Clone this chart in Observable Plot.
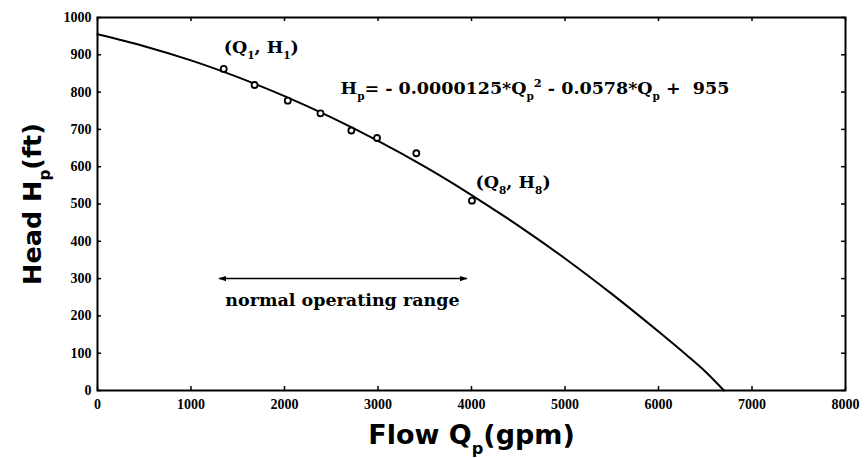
<!DOCTYPE html>
<html><head><meta charset="utf-8">
<script src="https://cdn.jsdelivr.net/npm/d3@7"></script>
<script src="https://cdn.jsdelivr.net/npm/@observablehq/plot@0.6"></script>
<style>body{margin:0;background:#fff}</style>
</head><body><div id="chart"></div>
<script>
// measured pump test points (Q in gpm, H in ft)
const pointQ = [1350, 1680, 2035, 2385, 2715, 2990, 3410, 4005];
const pointH = [862, 819, 777, 743, 697, 677, 636, 509];
// fitted pump curve
const curveQ = [0, 500, 1000, 1500, 2000, 2500, 3000, 3500, 4000, 4500, 5000, 5500, 6000, 6300, 6500, 6700];
const curveH = [955, 923, 885, 840, 789, 732, 669, 600, 524, 442, 354, 259, 158, 95, 51, 0];
const xTicks = [0, 1000, 2000, 3000, 4000, 5000, 6000, 7000, 8000];
const yTicks = [0, 100, 200, 300, 400, 500, 600, 700, 800, 900, 1000];
// normal operating range arrow
const rangeQ = [1300, 3950];
const rangeH = 300;
// annotations
const startNotes = [
  {q: 1350, h: 920, label: "(Q_{1}, H_{1})"},
  {q: 2600, h: 810, label: "H_{p}= - 0.0000125*Q_{p}^{2} - 0.0578*Q_{p} +  955"},
  {q: 4043, h: 558, label: "(Q_{8}, H_{8})"}
];
const middleNotes = [
  {q: 2620, h: 241, label: "normal operating range"}
];

const points = pointQ.map((q, i) => ({q, h: pointH[i]}));
const curve = curveQ.map((q, i) => ({q, h: curveH[i]}));
const serif = "DejaVu Serif";

const chart = Plot.plot({
  width: 865,
  height: 458,
  marginLeft: 97,
  marginRight: 20,
  marginTop: 17,
  marginBottom: 68,
  style: {fontFamily: "Liberation Serif", fontSize: "14px", fontWeight: "bold", background: "#fff", color: "#000"},
  x: {domain: [0, 8000], ticks: xTicks, tickFormat: d => String(d), tickSize: 0, tickPadding: 9, label: null},
  y: {domain: [0, 1000], ticks: yTicks, tickFormat: d => String(d), tickSize: 0, tickPadding: 6, label: null},
  marks: [
    Plot.tickX(xTicks, {x: d => d, insetTop: 369, strokeWidth: 1.5}),
    Plot.tickX(xTicks, {x: d => d, insetBottom: 369, strokeWidth: 1.5}),
    Plot.tickY(yTicks, {y: d => d, insetRight: 744, strokeWidth: 1.5}),
    Plot.tickY(yTicks, {y: d => d, insetLeft: 744, strokeWidth: 1.5}),
    Plot.frame({strokeWidth: 2}),
    Plot.line(curve, {x: "q", y: "h", curve: "catmull-rom", strokeWidth: 2}),
    Plot.dot(points, {x: "q", y: "h", r: 3, fill: "white", stroke: "black", strokeWidth: 1.8}),
    Plot.link([{q1: rangeQ[0], q2: rangeQ[1], h: rangeH}], {x1: "q1", x2: "q2", y1: "h", y2: "h", strokeWidth: 1.5}),
    Plot.text(startNotes, {x: "q", y: "h", text: "label", textAnchor: "start", fontFamily: serif, fontWeight: "bold", fontSize: 17.5}),
    Plot.text(middleNotes, {x: "q", y: "h", text: "label", textAnchor: "middle", fontFamily: serif, fontWeight: "bold", fontSize: 17.5}),
    Plot.text(["Flow Q_{p}(gpm)"], {frameAnchor: "bottom", dy: 45, textAnchor: "middle", lineAnchor: "middle", fontFamily: "DejaVu Sans", fontWeight: "bold", fontSize: 27}),
    Plot.text(["Head H_{p}(ft)"], {frameAnchor: "left", dx: -65, rotate: -90, textAnchor: "middle", lineAnchor: "middle", fontFamily: "DejaVu Sans", fontWeight: "bold", fontSize: 25.5})
  ]
});
document.getElementById("chart").appendChild(chart);

const NS = "http://www.w3.org/2000/svg";
// filled arrowheads on both ends of the range line
const defs = document.createElementNS(NS, "defs");
const marker = document.createElementNS(NS, "marker");
marker.setAttribute("id", "rangeHead");
marker.setAttribute("viewBox", "0 -5 10 10");
marker.setAttribute("refX", "9");
marker.setAttribute("markerWidth", "8");
marker.setAttribute("markerHeight", "8");
marker.setAttribute("markerUnits", "userSpaceOnUse");
marker.setAttribute("orient", "auto-start-reverse");
const head = document.createElementNS(NS, "path");
head.setAttribute("d", "M0,-3.5L10,0L0,3.5Z");
head.setAttribute("fill", "black");
marker.appendChild(head);
defs.appendChild(marker);
chart.insertBefore(defs, chart.firstChild);
chart.querySelectorAll('g[aria-label="link"] path').forEach(p => {
  p.setAttribute("marker-start", "url(#rangeHead)");
  p.setAttribute("marker-end", "url(#rangeHead)");
});

// convert _{..} and ^{..} markup into real sub/superscript tspans
chart.querySelectorAll("text").forEach(t => {
  const s = t.textContent;
  if (!/[_^]\{/.test(s)) return;
  const re = /([_^])\{([^}]*)\}/g;
  const parts = [];
  let last = 0, m;
  while ((m = re.exec(s))) {
    if (m.index > last) parts.push({t: s.slice(last, m.index), k: ""});
    parts.push({t: m[2], k: m[1]});
    last = re.lastIndex;
  }
  if (last < s.length) parts.push({t: s.slice(last), k: ""});
  while (t.firstChild) t.removeChild(t.firstChild);
  parts.forEach(p => {
    const ts = document.createElementNS(NS, "tspan");
    ts.textContent = p.t;
    if (p.k === "_") { ts.setAttribute("baseline-shift", "sub"); ts.setAttribute("font-size", "60%"); }
    if (p.k === "^") { ts.setAttribute("baseline-shift", "super"); ts.setAttribute("font-size", "65%"); }
    t.appendChild(ts);
  });
});
</script>
</body></html>
